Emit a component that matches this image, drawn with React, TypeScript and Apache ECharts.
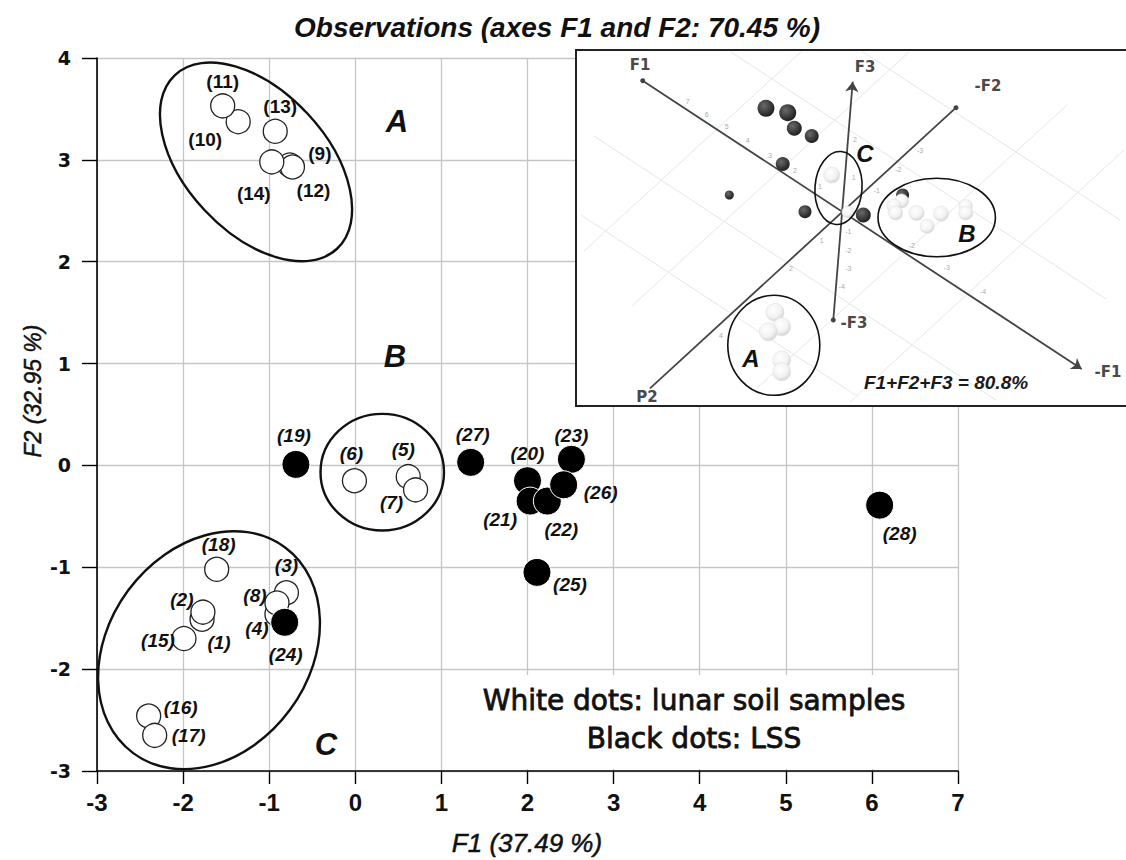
import React, { useEffect, useRef } from 'react';
import * as echarts from 'echarts';

// ---------- main PCA map (F1 x F2) ----------
const lunarSamples: [string, number, number][] = [
  ['(1)', -1.78, -1.51],
  ['(2)', -1.77, -1.44],
  ['(3)', -0.8, -1.25],
  ['(4)', -0.91, -1.46],
  ['(8)', -0.91, -1.35],
  ['(5)', 0.615, -0.11],
  ['(6)', -0.01, -0.15],
  ['(7)', 0.7, -0.24],
  ['(9)', -0.76, 2.95],
  ['(12)', -0.73, 2.93],
  ['(14)', -0.97, 2.98],
  ['(10)', -1.36, 3.375],
  ['(11)', -1.54, 3.53],
  ['(13)', -0.93, 3.28],
  ['(15)', -1.99, -1.7],
  ['(16)', -2.4, -2.46],
  ['(17)', -2.33, -2.65],
  ['(18)', -1.61, -1.02],
];

const lssSamples: [string, number, number][] = [
  ['(19)', -0.69, 0.01],
  ['(20)', 2.0, -0.15],
  ['(23)', 2.51, 0.06],
  ['(21)', 2.03, -0.35],
  ['(22)', 2.23, -0.35],
  ['(26)', 2.42, -0.19],
  ['(24)', -0.82, -1.54],
  ['(25)', 2.11, -1.05],
  ['(27)', 1.34, 0.03],
  ['(28)', 6.09, -0.39],
];

const uprightLabels = ['(9)', '(10)', '(11)', '(12)', '(13)', '(14)'];

// cluster letters and ellipses, in data units: [cx, cy, semi-axis a, semi-axis b (x units), rotation deg]
const clusterLetters: [string, number, number][] = [
  ['A', 0.484, 3.373],
  ['B', 0.461, 1.069],
  ['C', -0.34, -2.735],
];
const clusterEllipses: [number, number, number, number, number][] = [
  [-1.153, 2.98, 1.38, 0.82, -47],
  [0.313, -0.066, 0.717, 0.677, 0],
  [-1.699, -1.814, 1.485, 1.168, 53.6],
];

// label placement (pixels) - layout only
const labelOffsets: Record<string, [number, number]> = {
  '(11)': [0, -24], '(10)': [-33, 18], '(13)': [5, -25], '(14)': [-18, 32], '(9)': [30, -11], '(12)': [21, 24],
  '(19)': [-2, -29], '(6)': [-3, -27], '(5)': [-5, -27], '(7)': [-24, 13], '(27)': [2, -28], '(20)': [0, -27],
  '(23)': [0, -24], '(26)': [37, 8], '(21)': [-30, 18], '(22)': [14, 28], '(25)': [33, 12], '(28)': [20, 28],
  '(18)': [2, -25], '(3)': [0, -27], '(8)': [-22, -7], '(4)': [-20, 14], '(24)': [1, 32], '(2)': [-21, -13],
  '(1)': [17, 23], '(15)': [-26, 2], '(16)': [32, -8], '(17)': [34, 0],
};

// ---------- inset (3D view F1/F2/F3), inset units ----------
const insetDark: [number, number, number][] = [
  [190, 58.3, 17], [211.7, 62.7, 17], [218.3, 78.3, 15], [235.7, 86, 14], [206.7, 114, 14],
  [153.3, 145, 9], [229, 161.7, 13], [287.3, 165, 15], [326.6, 145, 13],
];
const insetWhite: [number, number, number][] = [
  [255.7, 125, 16], [272, 162, 12],
  [325.5, 151, 14], [317.9, 156, 14], [319.6, 163, 14], [340.6, 163, 15], [351.1, 176.3, 14],
  [365.1, 163.7, 15], [389.7, 155.9, 13], [389.7, 163, 14],
  [199, 262.3, 18], [205.7, 276.7, 18], [192.3, 281.7, 18], [205.7, 310, 18], [205.7, 321.7, 18],
];
const insetEllipses: [number, number, number, number, number][] = [
  [262.5, 138, 23.5, 36.5, -4],
  [360.7, 167.5, 58.7, 39.2, 0],
  [197.8, 295.3, 46, 50, 0],
];
const insetArrowAxes: [number, number][][] = [
  [[66.7, 30.7], [505.7, 319]],
  [[257.3, 270], [276.7, 31.7]],
];
const insetPlainAxes: [number, number][][] = [[[380, 57.7], [74, 338.3]]];
const insetGridLines: [number, number][][] = [
  [[8, 201], [225, 2]], [[56, 256], [333, 2]], [[181, 338], [491, 55]], [[274, 352], [548, 100]],
  [[155, 2], [530, 249]], [[287, 2], [544, 170]], [[18, 86], [420, 350]], [[5, 165], [281, 346]],
];
const insetAxisNames: [string, number, number][] = [
  ['F1', 64, 15], ['F3', 289, 17], ['-F2', 412, 36], ['-F1', 532, 322], ['P2', 71, 347], ['-F3', 278, 273],
];
const insetTicks: [string, number, number][] = [
  ['7', 111.7, 51], ['6', 130.7, 64], ['5', 150.7, 76.7], ['4', 171.7, 90], ['3', 194, 105], ['2', 219, 120.7], ['1', 244, 136.7],
  ['-2', 335.7, 195], ['-3', 370.7, 217.7], ['-4', 407, 241.7],
  ['1', 277.6, 127], ['2', 279, 89.3], ['-1', 272.3, 181.7], ['-2', 272.3, 200], ['-3', 272.3, 218.3], ['-4', 265.7, 236.7],
  ['1', 245.7, 190], ['2', 215, 218], ['4', 145, 285], ['-1', 300.7, 140], ['-2', 322.3, 119.3], ['-3', 344, 100],
];
const insetLetters: [string, number, number][] = [['C', 289, 103], ['B', 391, 183], ['A', 175, 308]];
const insetNote = ['F1+F2+F3 = 80.8%', 370, 332] as const;

const SANS = "'Liberation Sans', Arial, Helvetica, sans-serif";
const DEJAVU = "'DejaVu Sans', Verdana, sans-serif";

const labelItems = (list: [string, number, number][]) =>
  list.map(([id, x, y]) => ({
    name: id,
    value: [x, y],
    label: {
      offset: labelOffsets[id] || [0, -24],
      fontStyle: uprightLabels.includes(id) ? 'normal' : 'italic',
    },
  }));

const ellipseRender = (lw: number) => (params: any, api: any) => {
  const c = api.coord([api.value(0), api.value(1)]);
  const a = api.size([api.value(2), 0])[0];
  const b = api.size([api.value(3), 0])[0];
  return {
    type: 'ellipse',
    x: c[0],
    y: c[1],
    rotation: (api.value(4) * Math.PI) / 180,
    shape: { cx: 0, cy: 0, rx: a, ry: b },
    style: { fill: 'none', stroke: '#111', lineWidth: lw },
  };
};

export default function App() {
  const ref = useRef<HTMLDivElement>(null);
  useEffect(() => {
    document.body.style.margin = '0';
    const chart = echarts.init(ref.current!, undefined, { renderer: 'svg' });
    const darkGrad = new echarts.graphic.RadialGradient(0.38, 0.35, 0.7, [
      { offset: 0, color: '#6a6a6a' },
      { offset: 1, color: '#1a1a1a' },
    ]);
    const whiteGrad = new echarts.graphic.RadialGradient(0.4, 0.35, 0.7, [
      { offset: 0, color: '#ffffff' },
      { offset: 0.6, color: '#f3f3f3' },
      { offset: 1, color: '#cfcfcf' },
    ]);
    const hidden = { color: 'rgba(0,0,0,0)', borderWidth: 0, opacity: 1 };
    const txt = (text: string, x: number, y: number, extra: any) => ({
      type: 'text', x, y, z: 3, ...extra,
      style: {
        text, fill: '#111', align: 'center', verticalAlign: 'middle',
        textAlign: 'center', textVerticalAlign: 'middle', ...extra.style,
      },
    });

    const option: any = {
      animation: false,
      backgroundColor: '#fff',
      grid: [
        { left: 97, top: 58, width: 861, height: 713 },
        { left: 576, top: 50, width: 550, height: 356 },
      ],
      xAxis: [
        {
          gridIndex: 0, type: 'value', min: -3, max: 7, interval: 1,
          axisLine: { onZero: false, lineStyle: { color: '#000', width: 1.6 } },
          axisTick: { show: true, length: 13, lineStyle: { color: '#000', width: 1.4 } },
          splitLine: { show: true, lineStyle: { color: '#c6c6c6', width: 1.3 } },
          axisLabel: { margin: 19, fontSize: 24, fontWeight: 'bold', fontFamily: SANS, color: '#111' },
        },
        { gridIndex: 1, type: 'value', min: 0, max: 550, show: false },
      ],
      yAxis: [
        {
          gridIndex: 0, type: 'value', min: -3, max: 4, interval: 1,
          axisLine: { onZero: false, lineStyle: { color: '#000', width: 1.6 } },
          axisTick: { show: true, length: 15, lineStyle: { color: '#000', width: 1.4 } },
          splitLine: { show: true, lineStyle: { color: '#c6c6c6', width: 1.3 } },
          axisLabel: { margin: 26, fontSize: 19, fontWeight: 'bold', fontFamily: DEJAVU, color: '#111' },
        },
        { gridIndex: 1, type: 'value', min: 0, max: 356, inverse: true, show: false },
      ],
      graphic: [
        txt('Observations (axes F1 and F2: 70.45 %)', 557, 27, {
          style: { fontSize: 28, fontWeight: 'bold', fontStyle: 'italic', fontFamily: SANS },
        }),
        txt('F1 (37.49 %)', 527, 843, {
          style: { fontSize: 26, fontStyle: 'italic', fontFamily: SANS, stroke: '#111', lineWidth: 0.5 },
        }),
        txt('F2 (32.95 %)', 33, 391, {
          rotation: Math.PI / 2,
          style: { fontSize: 23, fontStyle: 'italic', fontFamily: SANS, stroke: '#111', lineWidth: 0.5 },
        }),
        {
          type: 'rect', z: 1, shape: { x: 576, y: 50, width: 552, height: 356 },
          style: { fill: '#fff', stroke: '#222', lineWidth: 2 },
        },
        { type: 'rect', z: 1, shape: { x: 450, y: 675, width: 502, height: 94 }, style: { fill: '#fff' } },
        txt('White dots: lunar soil samples', 694, 700, {
          style: { fontSize: 28, fontFamily: DEJAVU, stroke: '#111', lineWidth: 0.8 },
        }),
        txt('Black dots: LSS', 694, 738, {
          style: { fontSize: 28, fontFamily: DEJAVU, stroke: '#111', lineWidth: 0.8 },
        }),
      ],
      series: [
        // ---- main chart ----
        {
          type: 'custom', xAxisIndex: 0, yAxisIndex: 0, z: 2, silent: true, clip: false,
          renderItem: ellipseRender(2.4), data: clusterEllipses,
        },
        {
          type: 'scatter', xAxisIndex: 0, yAxisIndex: 0, z: 3, symbolSize: 24,
          itemStyle: { color: '#fff', borderColor: '#222', borderWidth: 1.3, opacity: 1 },
          data: lunarSamples.map(([id, x, y]) => ({ name: id, value: [x, y] })),
        },
        {
          type: 'scatter', xAxisIndex: 0, yAxisIndex: 0, z: 4, symbolSize: 28,
          itemStyle: { color: '#000', borderColor: '#fff', borderWidth: 1, opacity: 1 },
          data: lssSamples.map(([id, x, y]) => ({ name: id, value: [x, y] })),
        },
        {
          type: 'scatter', xAxisIndex: 0, yAxisIndex: 0, z: 5, symbolSize: 1, itemStyle: hidden,
          label: {
            show: true, position: 'inside', formatter: '{b}', fontSize: 19, fontWeight: 'bold',
            fontFamily: SANS, color: '#111',
          },
          data: [...labelItems(lunarSamples), ...labelItems(lssSamples)],
        },
        {
          type: 'scatter', xAxisIndex: 0, yAxisIndex: 0, z: 5, symbolSize: 1, itemStyle: hidden,
          label: {
            show: true, position: 'inside', formatter: '{b}', fontSize: 31, fontWeight: 'bold',
            fontStyle: 'italic', fontFamily: SANS, color: '#111',
          },
          data: clusterLetters.map(([t, x, y]) => ({ name: t, value: [x, y] })),
        },
        // ---- inset ----
        {
          type: 'lines', coordinateSystem: 'cartesian2d', xAxisIndex: 1, yAxisIndex: 1, z: 3, silent: true,
          lineStyle: { color: '#e6e6e6', width: 1, opacity: 1 },
          data: insetGridLines.map((c) => ({ coords: c })),
        },
        {
          type: 'lines', coordinateSystem: 'cartesian2d', xAxisIndex: 1, yAxisIndex: 1, z: 4, silent: true,
          symbol: ['circle', 'arrow'], symbolSize: [5, 10],
          lineStyle: { color: '#444', width: 1.8, opacity: 1 },
          itemStyle: { color: '#444' },
          data: insetArrowAxes.map((c) => ({ coords: c })),
        },
        {
          type: 'lines', coordinateSystem: 'cartesian2d', xAxisIndex: 1, yAxisIndex: 1, z: 4, silent: true,
          symbol: ['circle', 'none'], symbolSize: [5, 0],
          lineStyle: { color: '#444', width: 1.8, opacity: 1 },
          data: insetPlainAxes.map((c) => ({ coords: c })),
        },
        {
          type: 'scatter', xAxisIndex: 1, yAxisIndex: 1, z: 4, symbolSize: 1, itemStyle: hidden,
          label: { show: true, position: 'inside', formatter: '{b}', fontSize: 7, fontFamily: SANS, color: '#aaa' },
          data: insetTicks.map(([t, x, y]) => ({ name: t, value: [x, y] })),
        },
        {
          type: 'scatter', xAxisIndex: 1, yAxisIndex: 1, z: 5,
          itemStyle: { color: darkGrad, opacity: 1 },
          data: insetDark.map(([x, y, d]) => ({ value: [x, y], symbolSize: d })),
        },
        {
          type: 'scatter', xAxisIndex: 1, yAxisIndex: 1, z: 6,
          itemStyle: { color: whiteGrad, borderColor: '#e0e0e0', borderWidth: 0.6, opacity: 1 },
          data: insetWhite.map(([x, y, d]) => ({ value: [x, y], symbolSize: d })),
        },
        {
          type: 'custom', xAxisIndex: 1, yAxisIndex: 1, z: 7, silent: true, clip: false,
          renderItem: ellipseRender(1.6), data: insetEllipses,
        },
        {
          type: 'scatter', xAxisIndex: 1, yAxisIndex: 1, z: 8, symbolSize: 1, itemStyle: hidden,
          label: {
            show: true, position: 'inside', formatter: '{b}', fontSize: 15, fontWeight: 'bold',
            fontFamily: DEJAVU, color: '#4a4a4a',
          },
          data: insetAxisNames.map(([t, x, y]) => ({ name: t, value: [x, y] })),
        },
        {
          type: 'scatter', xAxisIndex: 1, yAxisIndex: 1, z: 8, symbolSize: 1, itemStyle: hidden,
          label: {
            show: true, position: 'inside', formatter: '{b}', fontSize: 24, fontWeight: 'bold',
            fontStyle: 'italic', fontFamily: SANS, color: '#111',
          },
          data: insetLetters.map(([t, x, y]) => ({ name: t, value: [x, y] })),
        },
        {
          type: 'scatter', xAxisIndex: 1, yAxisIndex: 1, z: 8, symbolSize: 1, itemStyle: hidden,
          label: {
            show: true, position: 'inside', formatter: '{b}', fontSize: 19, fontWeight: 'bold',
            fontStyle: 'italic', fontFamily: SANS, color: '#1a1a1a',
          },
          data: [{ name: insetNote[0], value: [insetNote[1], insetNote[2]] }],
        },
      ],
    };
    chart.setOption(option);
    return () => chart.dispose();
  }, []);
  return <div ref={ref} style={{ width: 1126, height: 860 }} />;
}
